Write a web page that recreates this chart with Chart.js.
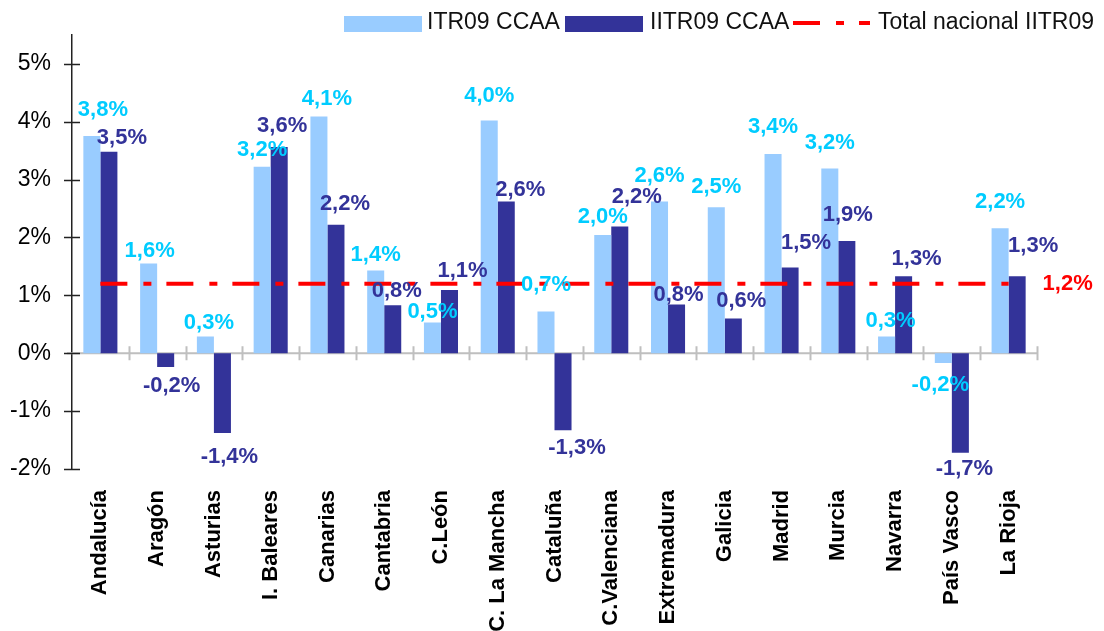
<!DOCTYPE html>
<html>
<head>
<meta charset="utf-8">
<script src="https://cdn.jsdelivr.net/npm/chart.js@4.4.1/dist/chart.umd.min.js"></script>
<style>
  html, body { margin: 0; padding: 0; background: #ffffff; overflow: hidden; }
  #wrap { position: relative; width: 1104px; height: 631px; }
</style>
</head>
<body>
<div id="wrap"><canvas id="c"></canvas></div>
<script>
// ---- data ----
const categories = ["Andalucía", "Aragón", "Asturias", "I. Baleares", "Canarias", "Cantabria", "C.León",
  "C. La Mancha", "Cataluña", "C.Valenciana", "Extremadura", "Galicia", "Madrid", "Murcia", "Navarra",
  "País Vasco", "La Rioja"];
const itr09 = [3.75, 1.55, 0.29, 3.22, 4.09, 1.43, 0.53, 4.02, 0.72, 2.04, 2.62, 2.52, 3.44, 3.19, 0.29, -0.17, 2.16];
const iitr09 = [3.48, -0.24, -1.38, 3.56, 2.22, 0.83, 1.09, 2.62, -1.33, 2.19, 0.84, 0.60, 1.48, 1.94, 1.33, -1.72, 1.33];
const totalNacional = 1.2;
const yTicks = [-2, -1, 0, 1, 2, 3, 4, 5];
const seriesNames = ["ITR09 CCAA", "IITR09 CCAA", "Total nacional IITR09"];

// ---- label nudges (px, relative to bar end) ----
const lightNudge = [[11,-26.5],[1,-13],[3.5,-13],[0,-17],[8,-17],[0,-15],[0,-11],[0,-25],[0,-27],[0,-18],[0,-26],[0,-20],[0,-27],[0,-26],[4,-15],[-3,22],[0,-26]];
const darkNudge = [[13,-14],[6,19],[7,24],[3,-21],[9,-21],[4,-14],[13,-19],[14,-12],[14,18],[17,-29],[2,-10],[8,-18],[16,-25],[1,-26],[13,-17],[4,16],[16,-30]];

const FONT = '"Liberation Sans", Arial, Helvetica, sans-serif';
const C_LIGHT = '#99CCFF', C_DARK = '#333399', C_CYAN = '#00CCFF', C_RED = '#FF0000';

function fmt(v) { return v.toFixed(1).replace('.', ',') + '%'; }

const decor = {
  id: 'decor',
  beforeDatasetsDraw(chart) {
    const { ctx, chartArea, scales } = chart;
    const x = scales.x, y = scales.y;
    const y0 = y.getPixelForValue(0);
    ctx.save();
    ctx.strokeStyle = '#BFBFBF';
    ctx.lineWidth = 2;
    ctx.beginPath();
    ctx.moveTo(chartArea.left - 5, y0);
    ctx.lineTo(chartArea.right, y0);
    const w = (chartArea.right - chartArea.left) / categories.length;
    for (let i = 1; i <= categories.length; i++) {
      const bx = Math.round(chartArea.left + i * w) + 0.5;
      ctx.moveTo(bx, y0 - 7);
      ctx.lineTo(bx, y0 + 7);
    }
    ctx.stroke();
    ctx.restore();
  },
  afterDatasetsDraw(chart) {
    const { ctx, scales } = chart;
    const y = scales.y;
    ctx.save();
    ctx.strokeStyle = '#222';
    ctx.lineWidth = 1.5;
    ctx.beginPath();
    yTicks.forEach(v => {
      const py = Math.round(y.getPixelForValue(v)) + 0.5;
      ctx.moveTo(chart.chartArea.left - 8, py);
      ctx.lineTo(chart.chartArea.left + 8, py);
    });
    ctx.stroke();
    ctx.font = 'bold 22px ' + FONT;
    ctx.textAlign = 'center';
    ctx.textBaseline = 'middle';
    const m0 = chart.getDatasetMeta(1), m1 = chart.getDatasetMeta(2), ml = chart.getDatasetMeta(0);
    m0.data.forEach((el, i) => {
      ctx.fillStyle = C_CYAN;
      ctx.fillText(fmt(itr09[i]), el.x + lightNudge[i][0], el.y + lightNudge[i][1]);
    });
    m1.data.forEach((el, i) => {
      ctx.fillStyle = C_DARK;
      ctx.fillText(fmt(iitr09[i]), el.x + darkNudge[i][0], el.y + darkNudge[i][1]);
    });
    const last = ml.data[ml.data.length - 1];
    ctx.fillStyle = C_RED;
    ctx.fillText(fmt(totalNacional), last.x + 59, last.y);
    ctx.restore();
  },
  afterDraw(chart) {
    const ctx = chart.ctx;
    ctx.save();
    ctx.font = '23px ' + FONT;
    ctx.textAlign = 'left';
    ctx.textBaseline = 'alphabetic';
    ctx.fillStyle = C_LIGHT; ctx.fillRect(344, 16, 78, 16);
    ctx.fillStyle = '#111'; ctx.fillText(seriesNames[0], 427, 29);
    ctx.fillStyle = C_DARK; ctx.fillRect(565, 16, 78, 16);
    ctx.fillStyle = '#111'; ctx.fillText(seriesNames[1], 650, 29);
    ctx.fillStyle = C_RED;
    ctx.fillRect(793, 21, 27, 4);
    ctx.fillRect(836, 21, 8, 4);
    ctx.fillRect(859, 21, 11, 4);
    ctx.fillStyle = '#111'; ctx.fillText(seriesNames[2], 878, 29);
    ctx.restore();
  }
};

new Chart(document.getElementById('c'), {
  type: 'bar',
  data: {
    labels: categories,
    datasets: [
      {
        type: 'line',
        label: seriesNames[2],
        data: categories.map(() => totalNacional),
        borderColor: C_RED,
        borderWidth: 4,
        borderDash: [27, 16, 8, 15],
        pointRadius: 0,
        fill: false,
        order: 0
      },
      {
        label: seriesNames[0],
        data: itr09,
        backgroundColor: C_LIGHT,
        categoryPercentage: 0.6,
        barPercentage: 1.0,
        order: 1
      },
      {
        label: seriesNames[1],
        data: iitr09,
        backgroundColor: C_DARK,
        categoryPercentage: 0.6,
        barPercentage: 1.0,
        order: 1
      }
    ]
  },
  options: {
    responsive: true,
    maintainAspectRatio: false,
    animation: false,
    layout: { padding: { top: 34, right: 67, bottom: 0, left: 0 } },
    plugins: { legend: { display: false }, tooltip: { enabled: false } },
    scales: {
      x: {
        grid: { display: false, drawTicks: false },
        border: { display: false },
        ticks: {
          color: '#000',
          font: { family: FONT, size: 22, weight: 'bold' },
          minRotation: 90,
          maxRotation: 90,
          autoSkip: false,
          padding: 21
        },
        afterFit(scale) { scale.height = 162; }
      },
      y: {
        min: -2,
        max: 5.5,
        grid: { display: false, drawTicks: false },
        border: { display: true, color: '#222', width: 1.5 },
        ticks: {
          stepSize: 1,
          color: '#000',
          font: { family: FONT, size: 23 },
          padding: 21,
          callback: v => v + '%'
        },
        afterBuildTicks(scale) {
          scale.ticks = yTicks.map(v => ({ value: v }));
        },
        afterFit(scale) { scale.width = 72; }
      }
    }
  },
  plugins: [decor]
});
</script>
</body>
</html>
